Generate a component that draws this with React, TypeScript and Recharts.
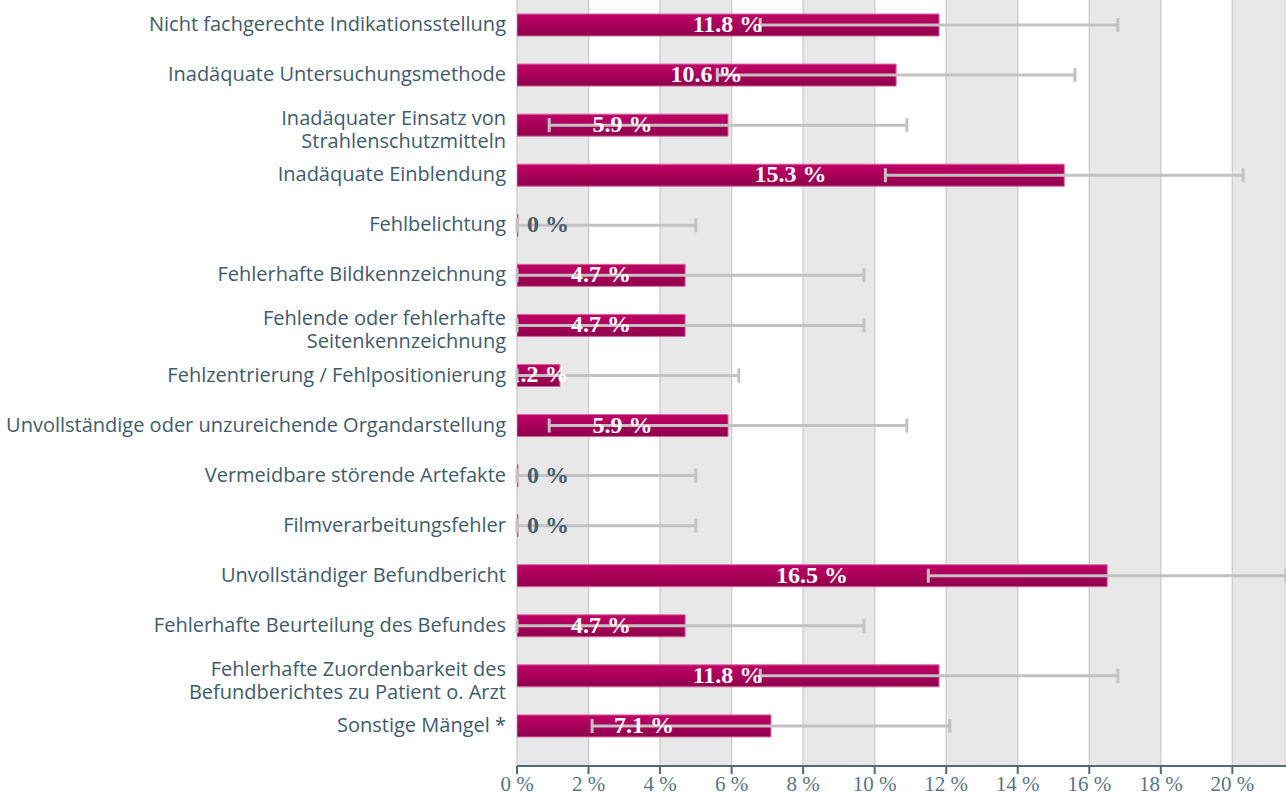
import React from "react";
import {
  BarChart,
  Bar,
  XAxis,
  YAxis,
  CartesianGrid,
  ErrorBar,
  LabelList,
} from "recharts";

const categories = [
  "Nicht fachgerechte Indikationsstellung",
  "Inadäquate Untersuchungsmethode",
  "Inadäquater Einsatz von\nStrahlenschutzmitteln",
  "Inadäquate Einblendung",
  "Fehlbelichtung",
  "Fehlerhafte Bildkennzeichnung",
  "Fehlende oder fehlerhafte\nSeitenkennzeichnung",
  "Fehlzentrierung / Fehlpositionierung",
  "Unvollständige oder unzureichende Organdarstellung",
  "Vermeidbare störende Artefakte",
  "Filmverarbeitungsfehler",
  "Unvollständiger Befundbericht",
  "Fehlerhafte Beurteilung des Befundes",
  "Fehlerhafte Zuordenbarkeit des\nBefundberichtes zu Patient o. Arzt",
  "Sonstige Mängel *",
];

// share in percent
const shares = [11.8, 10.6, 5.9, 15.3, 0, 4.7, 4.7, 1.2, 5.9, 0, 0, 16.5, 4.7, 11.8, 7.1];

// confidence interval bounds (read from the whiskers)
const ciLow = [6.8, 5.6, 0.9, 10.3, 0, 0, 0, 0, 0.9, 0, 0, 11.5, 0, 6.8, 2.1];
const ciHigh = [16.8, 15.6, 10.9, 20.3, 5, 9.7, 9.7, 6.2, 10.9, 5, 5, 21.5, 9.7, 16.8, 12.1];

const xTicks = [0, 2, 4, 6, 8, 10, 12, 14, 16, 18, 20];

const rows = categories.map((name, i) => ({
  name,
  value: shares[i],
  err: [shares[i] - ciLow[i], ciHigh[i] - shares[i]],
}));

const labelColor = "#3f5b6b";
const serif = "'Liberation Serif', 'Times New Roman', serif";

const CategoryTick = (props: any) => {
  const { x, y, payload } = props;
  const lines = String(payload.value).split("\n");
  return (
    <text
      x={x}
      y={y}
      textAnchor="end"
      fill={labelColor}
      fontFamily="'Open Sans', sans-serif"
      fontSize={20}
    >
      {lines.length === 1 ? (
        <tspan x={x} dy={6}>
          {lines[0]}
        </tspan>
      ) : (
        lines.map((l, i) => (
          <tspan key={i} x={x} dy={i === 0 ? 0 : 23}>
            {l}
          </tspan>
        ))
      )}
    </text>
  );
};

const ValueLabel = (props: any) => {
  const { x, y, width, height, value, index } = props;
  const cy = y + height / 2;
  if (!value) {
    return (
      <text
        x={x + 10}
        y={cy}
        dy={7}
        fill="#455e6e"
        fontWeight="bold"
        fontSize={24}
        fontFamily={serif}
      >
        0 %
      </text>
    );
  }
  const id = `vclip-${index}`;
  return (
    <g>
      <defs>
        <clipPath id={id}>
          <rect x={x} y={y - 10} width={width + 80} height={height + 20} />
        </clipPath>
      </defs>
      <text
        x={x + width / 2}
        y={cy}
        dy={7}
        textAnchor="middle"
        fill="#ffffff"
        fontWeight="bold"
        fontSize={24}
        fontFamily={serif}
        clipPath={`url(#${id})`}
      >
        {`${value} %`}
      </text>
    </g>
  );
};

export default function App() {
  return (
    <div style={{ position: "absolute", left: 0, top: 0 }}>
      <BarChart
        width={1286}
        height={796}
        data={rows}
        layout="vertical"
        margin={{ top: 0, right: 0, bottom: 0, left: 0 }}
        barSize={22}
        barGap={-22}
      >
        <defs>
          <linearGradient id="barGrad" x1="0" y1="0" x2="0" y2="1">
            <stop offset="0%" stopColor="#c00066" />
            <stop offset="45%" stopColor="#ab005a" />
            <stop offset="100%" stopColor="#8e004b" />
          </linearGradient>
        </defs>
        <CartesianGrid
          horizontal={false}
          stroke="#d0d0d0"
          strokeWidth={1.5}
          verticalFill={["#e8e8e8", "#ffffff"]}
        />
        <XAxis
          type="number"
          domain={[0, 21.5]}
          ticks={xTicks}
          allowDataOverflow
          tickFormatter={(v) => `${v} %`}
          tick={{ fill: "#5a7585", fontSize: 21, fontFamily: serif }}
          axisLine={{ stroke: "#4f6b7a", strokeWidth: 2 }}
          tickLine={{ stroke: "#4f6b7a", strokeWidth: 2 }}
          tickSize={8}
          tickMargin={2}
          height={30}
        />
        <YAxis
          type="category"
          dataKey="name"
          width={517}
          axisLine={false}
          tickLine={false}
          tickMargin={5}
          interval={0}
          padding={{ top: 0, bottom: 15 }}
          tick={<CategoryTick />}
        />
        <Bar
          dataKey="value"
          fill="url(#barGrad)"
          stroke="#d8679e"
          strokeWidth={1}
          minPointSize={1}
          isAnimationActive={false}
        >
          <LabelList dataKey="value" content={<ValueLabel />} />
        </Bar>
        <Bar
          dataKey="value"
          fill="transparent"
          minPointSize={1}
          isAnimationActive={false}
        >
          <ErrorBar
            dataKey="err"
            direction="x"
            width={7}
            stroke="#c2c2c2"
            strokeWidth={3}
          />
        </Bar>
      </BarChart>
    </div>
  );
}
